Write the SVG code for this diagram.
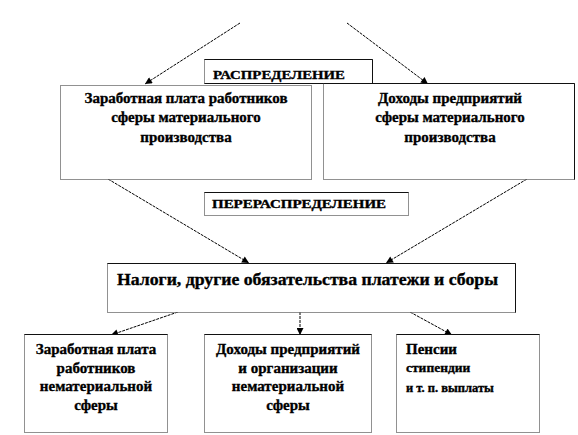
<svg xmlns="http://www.w3.org/2000/svg" width="578" height="435" viewBox="0 0 578 435" font-family="Liberation Serif, Times New Roman, DejaVu Serif, serif">
<style>
  .bx { fill: #fff; stroke: #222; stroke-width: 1; stroke-dasharray: 1 1; }
  .sl { stroke: #111; stroke-width: 1; fill: none; }
  text { font-family: "Liberation Serif", "Times New Roman", "DejaVu Serif", serif; font-weight: bold; fill: #000; stroke: #000; stroke-width: 0.35; }
  .m { text-anchor: middle; font-size: 15px; }
  .c { stroke: #000; stroke-width: 1; fill: none; stroke-dasharray: 3 1; }
</style>
<defs>
  <marker id="ah" viewBox="0 0 10 10" refX="10" refY="5" markerWidth="8" markerHeight="7" markerUnits="userSpaceOnUse" orient="auto">
    <path d="M0,0 L10,5 L0,10 z" fill="#000"/>
  </marker>
</defs>
<rect width="578" height="435" fill="#fff"/>

<g id="connectors">
  <line class="c" x1="240" y1="23" x2="145" y2="84" marker-end="url(#ah)"/>
  <line class="c" x1="347" y1="23" x2="428" y2="84" marker-end="url(#ah)"/>
  <line class="c" x1="108" y1="179" x2="249" y2="263" marker-end="url(#ah)"/>
  <line class="c" x1="527" y1="179" x2="386" y2="263" marker-end="url(#ah)"/>
  <line class="c" x1="178" y1="312" x2="111" y2="335" marker-end="url(#ah)"/>
  <line class="c" x1="300" y1="312" x2="300" y2="335" stroke-dasharray="1 1" marker-end="url(#ah)"/>
  <line class="c" x1="410" y1="312" x2="452" y2="335" marker-end="url(#ah)"/>
</g>

<g id="n-raspred">
  <rect class="bx" x="204.5" y="59.5" width="168" height="24"/>
  <path class="sl" d="M204.5,59.5 H372.5 V83.5 H204.5"/>
  <text x="213" y="79" font-size="13" textLength="132" lengthAdjust="spacingAndGlyphs">РАСПРЕДЕЛЕНИЕ</text>
</g>

<g id="n-wage-mat">
  <rect class="bx" x="60.5" y="85.5" width="251" height="94"/>
  <text class="m" x="186" y="103">Заработная плата работников</text>
  <text class="m" x="186" y="122">сферы материального</text>
  <text class="m" x="186" y="142">производства</text>
</g>

<g id="n-income-mat">
  <rect class="bx" x="323.5" y="83.5" width="251" height="96"/>
  <path class="sl" d="M323.5,83.5 H574.5 V179.5"/>
  <text class="m" x="450" y="103">Доходы предприятий</text>
  <text class="m" x="450" y="122">сферы материального</text>
  <text class="m" x="450" y="142">производства</text>
</g>

<g id="n-reraspred">
  <rect class="bx" x="204.5" y="192.5" width="204" height="23"/>
  <path class="sl" d="M204.5,192.5 H408.5"/>
  <text x="212" y="208" font-size="11.5" textLength="174" lengthAdjust="spacingAndGlyphs">ПЕРЕРАСПРЕДЕЛЕНИЕ</text>
</g>

<g id="n-taxes">
  <rect class="bx" x="107.5" y="263.5" width="408" height="49"/>
  <path class="sl" d="M107.5,263.5 H515.5 V312.5"/>
  <text x="117" y="285" font-size="17" textLength="381" lengthAdjust="spacingAndGlyphs">Налоги, другие обязательства платежи и сборы</text>
</g>

<g id="n-wage-nonmat">
  <rect class="bx" x="24.5" y="334.5" width="143" height="98"/>
  <path class="sl" d="M24.5,334.5 H167.5"/>
  <text class="m" x="96" y="354">Заработная плата</text>
  <text class="m" x="96" y="373">работников</text>
  <text class="m" x="96" y="391">нематериальной</text>
  <text class="m" x="96" y="410">сферы</text>
</g>

<g id="n-income-nonmat">
  <rect class="bx" x="204.5" y="334.5" width="167" height="98"/>
  <path class="sl" d="M204.5,334.5 H371.5"/>
  <text class="m" x="288" y="354">Доходы предприятий</text>
  <text class="m" x="288" y="373">и организации</text>
  <text class="m" x="288" y="391">нематериальной</text>
  <text class="m" x="288" y="410">сферы</text>
</g>

<g id="n-pensions">
  <rect class="bx" x="396.5" y="334.5" width="143" height="98"/>
  <path class="sl" d="M396.5,334.5 H539.5"/>
  <text x="406" y="354" font-size="15">Пенсии</text>
  <text x="406" y="372" font-size="13.5">стипендии</text>
  <text x="406" y="392" font-size="12.5">и т. п. выплаты</text>
</g>
</svg>
